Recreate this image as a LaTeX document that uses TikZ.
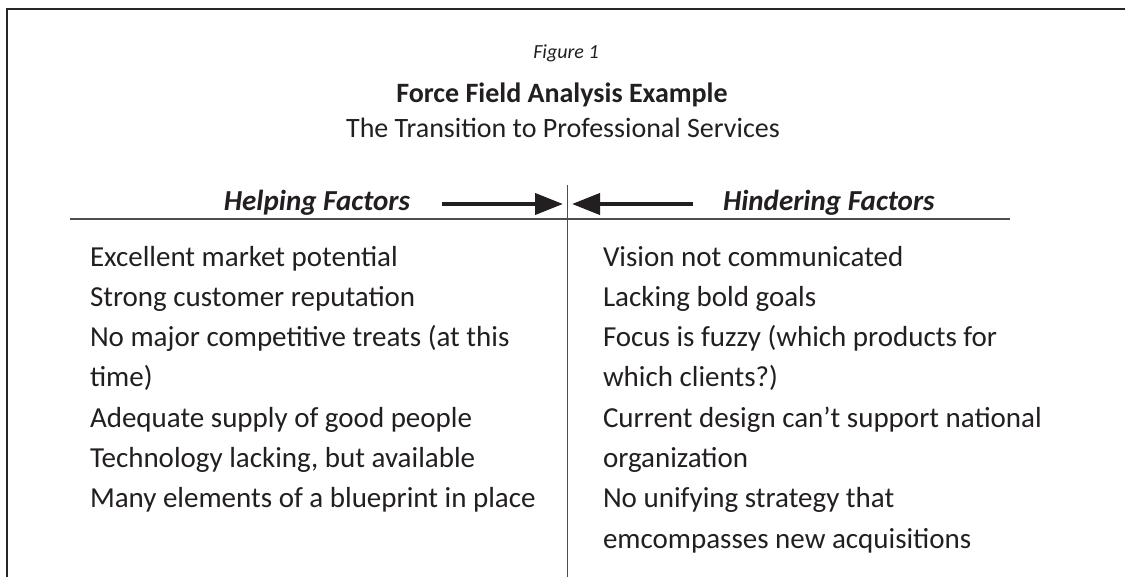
\documentclass[tikz,border=0pt]{standalone}
\usepackage{fontspec}
\setmainfont{Carlito}
\usetikzlibrary{arrows.meta}
\definecolor{ink}{HTML}{231F20}
\definecolor{rulegray}{HTML}{4D4D4D}
\begin{document}
\begin{tikzpicture}[x=1pt,y=-1pt,
  every node/.style={inner sep=0pt, outer sep=0pt, text=ink},
  body/.style={anchor=base west, font=\fontsize{29}{35}\selectfont},
  colhead/.style={font=\fontsize{29}{35}\selectfont\bfseries\itshape},
  force/.style={line width=4pt, draw=ink, -{Triangle[length=28pt,width=21pt]}},
  thinrule/.style={line width=1.3pt, draw=rulegray},
]
\useasboundingbox (0,0) rectangle (1125,576);
\fill[white] (0,0) rectangle (1125,576);
% outer frame (open to the right and bottom)
\draw[line width=2pt, draw=black!85] (1127,9) -- (7,9) -- (7,578);

% titles
\node[anchor=base, font=\fontsize{20}{24}\selectfont\itshape] (fig) at (566,58) {Figure 1};
\node[anchor=base, font=\fontsize{28}{34}\selectfont\bfseries] (title) at (562,102) {Force Field Analysis Example};
\node[anchor=base, font=\fontsize{28}{34}\selectfont] (subtitle) at (563,137) {The Transition to Professional Services};

% column headings
\node[colhead, anchor=base east] (help) at (410,210) {Helping Factors};
\node[colhead, anchor=base west] (hinder) at (723,210) {Hindering Factors};

% rules
\coordinate (vtop) at (567,185);
\coordinate (vbot) at (567,578);
\coordinate (hleft) at (70,219);
\coordinate (hright) at (1010,219);
\draw[thinrule] (hleft) -- (hright);
\draw[thinrule, line width=1pt] (vtop) -- (vbot);

% opposing forces
\coordinate (hA) at (442,204);
\coordinate (hB) at (563,204);
\coordinate (dA) at (693,204);
\coordinate (dB) at (572,204);
\draw[force] (hA) -- (hB);
\draw[force] (dA) -- (dB);

% helping factors
\node[body] (l1) at (90,266) {Excellent market potential};
\node[body] (l2) at (90,306.3) {Strong customer reputation};
\node[body] (l3) at (90,346.6) {No major competitive treats (at this};
\node[body] (l3b) at (90,386.9) {time)};
\node[body] (l4) at (90,427.2) {Adequate supply of good people};
\node[body] (l5) at (90,467.5) {Technology lacking, but available};
\node[body] (l6) at (90,507.8) {Many elements of a blueprint in place};

% hindering factors
\node[body] (r1) at (603,266) {Vision not communicated};
\node[body] (r2) at (603,306.3) {Lacking bold goals};
\node[body] (r3) at (603,346.6) {Focus is fuzzy (which products for};
\node[body] (r3b) at (603,386.9) {which clients?)};
\node[body] (r4) at (603,427.2) {Current design can’t support national};
\node[body] (r4b) at (603,467.5) {organization};
\node[body] (r5) at (603,507.8) {No unifying strategy that};
\node[body] (r5b) at (603,548.1) {emcompasses new acquisitions};
\end{tikzpicture}
\end{document}
